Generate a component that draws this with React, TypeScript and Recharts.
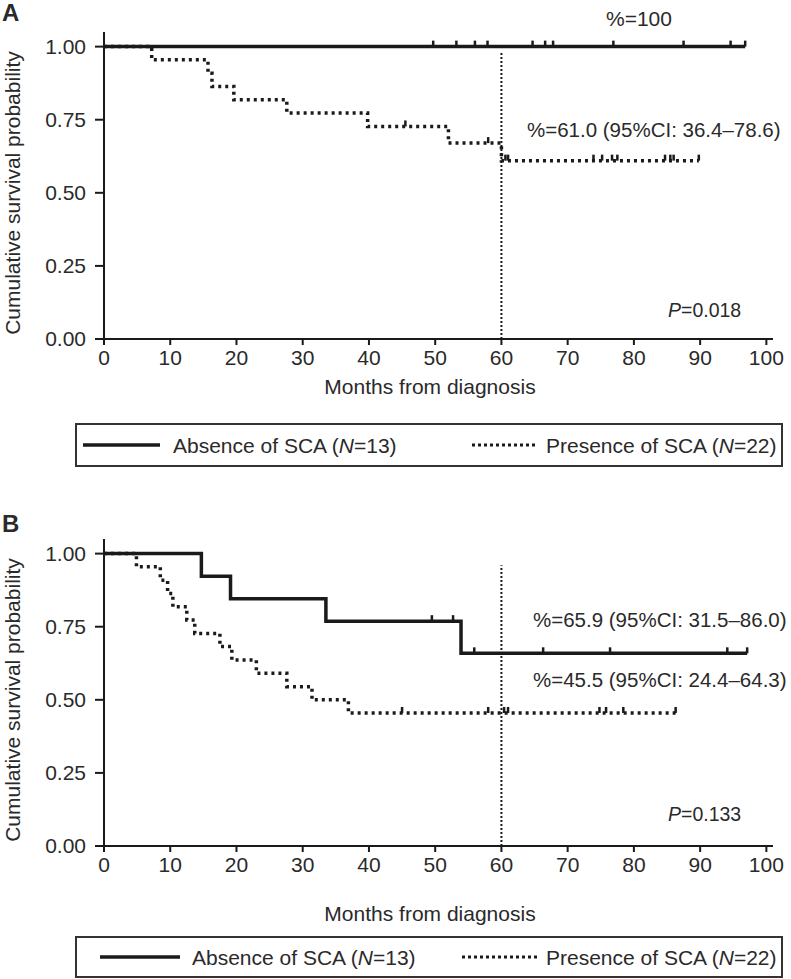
import React from 'react';
import {
  ComposedChart,
  Line,
  Scatter,
  XAxis,
  YAxis,
  ReferenceLine,
} from 'recharts';

// axis ticks
const monthTicks = [0, 10, 20, 30, 40, 50, 60, 70, 80, 90, 100];
const survTicks = [0, 0.25, 0.5, 0.75, 1];

// panel A - absence of SCA
const aAbsTime = [0, 96.8];
const aAbsSurv = [1, 1];
const aAbsCensor = [49.7, 53.2, 56.0, 57.9, 64.7, 66.6, 67.8, 76.9, 87.5, 94.6, 96.8];

// panel A - presence of SCA
const aPreTime = [0, 7.2, 15.7, 16.3, 19.6, 27.6, 39.8, 52.0, 60.0, 89.8];
const aPreSurv = [1, 0.955, 0.909, 0.864, 0.818, 0.773, 0.727, 0.67, 0.61, 0.61];
const aPreCensor = [45.5, 58.0, 60.6, 61.0, 73.9, 75.2, 76.7, 77.5, 84.7, 85.5, 86.0, 89.8];

// panel B - absence of SCA
const bAbsTime = [0, 14.7, 19.1, 33.5, 53.9, 97.1];
const bAbsSurv = [1, 0.923, 0.846, 0.769, 0.659, 0.659];
const bAbsCensor = [49.5, 52.7, 55.9, 66.3, 76.4, 94.1, 97.1];

// panel B - presence of SCA
const bPreTime = [0, 4.9, 8.5, 9.6, 10.4, 12.5, 13.7, 17.5, 19.3, 23.0, 27.6, 31.4, 36.9, 86.3];
const bPreSurv = [1, 0.955, 0.909, 0.864, 0.818, 0.773, 0.727, 0.682, 0.636, 0.591, 0.545, 0.5, 0.455, 0.455];
const bPreCensor = [45.0, 58.0, 60.4, 61.0, 74.8, 75.8, 78.4, 86.3];

const FONT = '"Liberation Sans", Arial, sans-serif';
const INK = '#1a1a1a';
const TEXT = '#2a2a2a';

const toSteps = (time: number[], surv: number[]) =>
  time.map((t, i) => ({ t, s: surv[i] }));

// survival value of a step curve at time t
const survAt = (time: number[], surv: number[], t: number) => {
  let s = surv[0];
  for (let i = 0; i < time.length; i++) if (time[i] <= t) s = surv[i];
  return s;
};

const toCensor = (time: number[], surv: number[], cens: number[]) =>
  cens.map((t) => ({ t, s: survAt(time, surv, t) }));

const CensorTick = (props: any) => {
  const { cx, cy } = props;
  if (cx == null || cy == null) return null;
  return <line x1={cx} y1={cy} x2={cx} y2={cy - 6} stroke={INK} strokeWidth={2.5} />;
};

interface PanelProps {
  top: number;
  absTime: number[];
  absSurv: number[];
  absCensor: number[];
  preTime: number[];
  preSurv: number[];
  preCensor: number[];
  refTop: number;
}

function Panel({ top, absTime, absSurv, absCensor, preTime, preSurv, preCensor, refTop }: PanelProps) {
  const tick = { fill: TEXT, fontSize: 21, fontFamily: FONT };
  return (
    <div style={{ position: 'absolute', left: 0, top, width: 791, height: 400 }}>
      <ComposedChart
        width={791}
        height={400}
        margin={{ top: 32, right: 18, left: 44, bottom: 31 }}
      >
        <XAxis
          type="number"
          dataKey="t"
          domain={[0, 101]}
          ticks={monthTicks}
          allowDataOverflow
          tick={tick}
          tickSize={6}
          tickMargin={5}
          height={30}
          axisLine={{ stroke: INK, strokeWidth: 2 }}
          tickLine={{ stroke: INK, strokeWidth: 2 }}
        />
        <YAxis
          type="number"
          dataKey="s"
          domain={[0, 1.05]}
          ticks={survTicks}
          tickFormatter={(v: number) => v.toFixed(2)}
          tick={tick}
          tickSize={9}
          tickMargin={9}
          width={60}
          axisLine={{ stroke: INK, strokeWidth: 2 }}
          tickLine={{ stroke: INK, strokeWidth: 2 }}
        />
        <ReferenceLine
          segment={[{ x: 60, y: 0 }, { x: 60, y: refTop }]}
          stroke={INK}
          strokeWidth={2}
          strokeDasharray="2 2"
        />
        <Line
          data={toSteps(preTime, preSurv)}
          dataKey="s"
          type="stepAfter"
          stroke={INK}
          strokeWidth={3.5}
          strokeDasharray="3 4"
          dot={false}
          activeDot={false}
          isAnimationActive={false}
        />
        <Line
          data={toSteps(absTime, absSurv)}
          dataKey="s"
          type="stepAfter"
          stroke={INK}
          strokeWidth={3.5}
          dot={false}
          activeDot={false}
          isAnimationActive={false}
        />
        <Scatter
          data={toCensor(absTime, absSurv, absCensor)}
          dataKey="s"
          shape={CensorTick}
          isAnimationActive={false}
        />
        <Scatter
          data={toCensor(preTime, preSurv, preCensor)}
          dataKey="s"
          shape={CensorTick}
          isAnimationActive={false}
        />
      </ComposedChart>
    </div>
  );
}

const Txt = ({ x, y, children, size = 21, center = false, bold = false }: any) => (
  <div
    style={{
      position: 'absolute',
      left: x,
      top: y,
      transform: center ? 'translate(-50%, -50%)' : 'translateY(-50%)',
      fontFamily: FONT,
      fontSize: size,
      fontWeight: bold ? 700 : 400,
      color: TEXT,
      whiteSpace: 'nowrap',
      lineHeight: 1,
    }}
  >
    {children}
  </div>
);

const YLabel = ({ cy }: { cy: number }) => (
  <div
    style={{
      position: 'absolute',
      left: 12,
      top: cy,
      transform: 'translate(-50%, -50%) rotate(-90deg)',
      fontFamily: FONT,
      fontSize: 21,
      color: TEXT,
      whiteSpace: 'nowrap',
      lineHeight: 1,
    }}
  >
    Cumulative survival probability
  </div>
);

// positions: [lineStart, lineEnd, textStart] in page pixels
function LegendBox({ top, height, solid, dotted }: any) {
  const item = { position: 'absolute' as const, top: '50%', transform: 'translateY(-50%)' };
  return (
    <div
      style={{
        position: 'absolute',
        left: 75,
        top,
        width: 704,
        height,
        border: '2px solid #333',
        fontFamily: FONT,
        fontSize: 21,
        color: TEXT,
        lineHeight: 1,
      }}
    >
      <svg style={{ ...item, left: solid[0] - 77 }} width={solid[1] - solid[0]} height={6}>
        <line x1={0} y1={3} x2={solid[1] - solid[0]} y2={3} stroke={INK} strokeWidth={3.5} />
      </svg>
      <div style={{ ...item, left: solid[2] - 77, whiteSpace: 'nowrap' }}>
        Absence of SCA (<i>N</i>=13)
      </div>
      <svg style={{ ...item, left: dotted[0] - 77 }} width={dotted[1] - dotted[0]} height={6}>
        <line
          x1={0}
          y1={3}
          x2={dotted[1] - dotted[0]}
          y2={3}
          stroke={INK}
          strokeWidth={3}
          strokeDasharray="3 3"
        />
      </svg>
      <div style={{ ...item, left: dotted[2] - 77, whiteSpace: 'nowrap' }}>
        Presence of SCA (<i>N</i>=22)
      </div>
    </div>
  );
}

export default function App() {
  return (
    <div
      style={{
        position: 'absolute',
        left: 0,
        top: 0,
        width: 791,
        height: 979,
        background: '#fff',
        overflow: 'hidden',
      }}
    >
      {/* Panel A */}
      <Panel
        top={0}
        absTime={aAbsTime}
        absSurv={aAbsSurv}
        absCensor={aAbsCensor}
        preTime={aPreTime}
        preSurv={aPreSurv}
        preCensor={aPreCensor}
        refTop={0.98}
      />
      <Txt x={2} y={13} size={24} bold>A</Txt>
      <Txt x={606} y={18}>%=100</Txt>
      <Txt x={527} y={130} size={20.5}>%=61.0 (95%CI: 36.4–78.6)</Txt>
      <Txt x={668} y={311} size={19.5}><i>P</i>=0.018</Txt>
      <Txt x={430} y={386} center>Months from diagnosis</Txt>
      <YLabel cy={193} />
      <LegendBox top={423} height={40} solid={[83, 160, 173]} dotted={[472, 538, 546]} />

      {/* Panel B */}
      <Panel
        top={507}
        absTime={bAbsTime}
        absSurv={bAbsSurv}
        absCensor={bAbsCensor}
        preTime={bPreTime}
        preSurv={bPreSurv}
        preCensor={bPreCensor}
        refTop={0.96}
      />
      <Txt x={2} y={524} size={24} bold>B</Txt>
      <Txt x={533} y={620} size={20.5}>%=65.9 (95%CI: 31.5–86.0)</Txt>
      <Txt x={533} y={680} size={20.5}>%=45.5 (95%CI: 24.4–64.3)</Txt>
      <Txt x={668} y={815} size={19.5}><i>P</i>=0.133</Txt>
      <Txt x={430} y={913} center>Months from diagnosis</Txt>
      <YLabel cy={700} />
      <LegendBox top={936} height={38} solid={[100, 180, 192]} dotted={[462, 538, 546]} />
    </div>
  );
}
